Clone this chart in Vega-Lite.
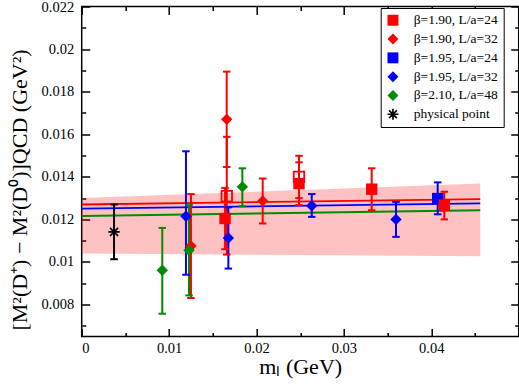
{
  "$schema": "https://vega.github.io/schema/vega-lite/v6.json",
  "width": 437,
  "height": 330,
  "autosize": "none",
  "padding": {"left": 81.7, "top": 6.5, "right": 0.3, "bottom": 48.5},
  "background": "white",
  "config": {
    "view": {"stroke": "black", "strokeWidth": 1.5},
    "font": "Liberation Serif",
    "legend": {"labelFont": "Liberation Serif", "labelFontSize": 13.5, "labelColor": "black"}
  },
  "datasets": {
    "points": [
      {"series": "physical point", "x": 0.0037, "y": 0.01141, "lo": 0.01013, "hi": 0.0127, "open": false},
      {"series": "β=2.10, L/a=48", "x": 0.00922, "y": 0.00961, "lo": 0.00757, "hi": 0.0116, "open": false},
      {"series": "β=1.95, L/a=32", "x": 0.01193, "y": 0.01215, "lo": 0.0094, "hi": 0.0152, "open": false},
      {"series": "β=1.90, L/a=32", "x": 0.0125, "y": 0.01075, "lo": 0.00831, "hi": 0.01319, "open": false},
      {"series": "β=2.10, L/a=48", "x": 0.01228, "y": 0.01055, "lo": 0.00843, "hi": 0.01267, "open": false},
      {"series": "β=1.90, L/a=24", "x": 0.0164, "y": 0.01204, "lo": 0.0106, "hi": 0.01348, "open": false},
      {"series": "β=1.90, L/a=24", "x": 0.0166, "y": 0.01309, "lo": 0.01035, "hi": 0.01588, "open": true},
      {"series": "β=1.90, L/a=32", "x": 0.01659, "y": 0.0167, "lo": 0.01446, "hi": 0.01894, "open": false},
      {"series": "β=1.95, L/a=32", "x": 0.01678, "y": 0.01113, "lo": 0.00969, "hi": 0.01257, "open": false},
      {"series": "β=2.10, L/a=48", "x": 0.01838, "y": 0.01353, "lo": 0.01262, "hi": 0.0144, "open": false},
      {"series": "β=1.90, L/a=32", "x": 0.02071, "y": 0.01287, "lo": 0.01181, "hi": 0.01392, "open": false},
      {"series": "β=1.90, L/a=24", "x": 0.02486, "y": 0.01368, "lo": 0.01267, "hi": 0.01468, "open": false},
      {"series": "β=1.90, L/a=24", "x": 0.02486, "y": 0.014, "lo": 0.013, "hi": 0.01499, "open": true},
      {"series": "β=1.95, L/a=32", "x": 0.02632, "y": 0.01264, "lo": 0.01212, "hi": 0.01319, "open": false},
      {"series": "β=1.90, L/a=24", "x": 0.03318, "y": 0.01342, "lo": 0.01243, "hi": 0.0144, "open": false},
      {"series": "β=1.95, L/a=32", "x": 0.03596, "y": 0.012, "lo": 0.01118, "hi": 0.01282, "open": false},
      {"series": "β=1.95, L/a=24", "x": 0.04073, "y": 0.01298, "lo": 0.01224, "hi": 0.01374, "open": false},
      {"series": "β=1.90, L/a=24", "x": 0.04149, "y": 0.01267, "lo": 0.012, "hi": 0.0133, "open": false}
    ],
    "fits": [
      {"series": "β=1.90, L/a=24", "x": 0, "y": 0.0127},
      {"series": "β=1.90, L/a=24", "x": 0.0456, "y": 0.01295},
      {"series": "β=1.95, L/a=24", "x": 0, "y": 0.01251},
      {"series": "β=1.95, L/a=24", "x": 0.0456, "y": 0.01275},
      {"series": "β=2.10, L/a=48", "x": 0, "y": 0.01216},
      {"series": "β=2.10, L/a=48", "x": 0.0456, "y": 0.01243}
    ],
    "band": [
      {"x": 0, "lo": 0.0104, "hi": 0.0130},
      {"x": 0.0456, "lo": 0.01027, "hi": 0.01369}
    ]
  },
  "layer": [
    {
      "data": {"name": "band"},
      "mark": {"type": "area", "color": "#ff0000", "opacity": 0.24},
      "encoding": {
        "x": {
          "field": "x", "type": "quantitative",
          "scale": {"domain": [0, 0.05], "nice": false, "zero": false},
          "axis": {
            "orient": "bottom",
            "domain": false, "grid": false,
            "tickColor": "black", "tickWidth": 1.5,
            "values": [0, 0.005, 0.01, 0.015, 0.02, 0.025, 0.03, 0.035, 0.04, 0.045],
            "labelExpr": "round(datum.value*1000) % 10 == 0 ? format(datum.value, '~g') : ''",
            "tickSize": {"condition": {"test": "round(datum.value*1000) % 10 == 0", "value": -8}, "value": -4},
            "labelPadding": 13,
            "labelFont": "Liberation Serif", "labelFontSize": 14.5, "labelColor": "black",
            "title": "mₗ (GeV)",
            "titleFont": "Liberation Serif", "titleFontSize": 22, "titleFontWeight": "normal", "titleColor": "black",
            "titleBaseline": "alphabetic",
            "titleY": 37
          }
        },
        "y": {
          "field": "lo", "type": "quantitative",
          "scale": {"domain": [0.0065, 0.022], "nice": false, "zero": false},
          "axis": {
            "orient": "left",
            "domain": false, "grid": false,
            "tickColor": "black", "tickWidth": 1.5,
            "values": [0.007, 0.008, 0.009, 0.01, 0.011, 0.012, 0.013, 0.014, 0.015, 0.016, 0.017, 0.018, 0.019, 0.02, 0.021, 0.022],
            "labelExpr": "round(datum.value*1000) % 2 == 0 ? format(datum.value, '~g') : ''",
            "tickSize": {"condition": {"test": "round(datum.value*1000) % 2 == 0", "value": -8}, "value": -4},
            "labelPadding": 16,
            "labelFlush": true,
            "labelFlushOffset": 6,
            "labelFont": "Liberation Serif", "labelFontSize": 14.5, "labelColor": "black",
            "title": "[M²(D⁺) − M²(D⁰)]QCD (GeV²)",
            "titleFont": "Liberation Serif", "titleFontSize": 22, "titleFontWeight": "normal", "titleColor": "black",
            "titleX": -50,
            "titleY": 183
          }
        },
        "y2": {"field": "hi"}
      }
    },
    {
      "data": {"name": "fits"},
      "mark": {"type": "line", "strokeWidth": 1.8},
      "encoding": {
        "x": {
          "field": "x", "type": "quantitative",
          "axis": {
            "orient": "top",
            "domain": false, "grid": false,
            "tickColor": "black", "tickWidth": 1.5,
            "values": [0, 0.005, 0.01, 0.015, 0.02, 0.025, 0.03, 0.035, 0.04, 0.045],
            "labels": false,
            "tickSize": {"condition": {"test": "round(datum.value*1000) % 10 == 0", "value": -8}, "value": -4},
            "title": null
          }
        },
        "y": {
          "field": "y", "type": "quantitative",
          "axis": {
            "orient": "right",
            "domain": false, "grid": false,
            "tickColor": "black", "tickWidth": 1.5,
            "values": [0.007, 0.008, 0.009, 0.01, 0.011, 0.012, 0.013, 0.014, 0.015, 0.016, 0.017, 0.018, 0.019, 0.02, 0.021, 0.022],
            "labels": false,
            "tickSize": {"condition": {"test": "round(datum.value*1000) % 2 == 0", "value": -8}, "value": -4},
            "title": null
          }
        },
        "color": {"field": "series", "type": "nominal", "legend": null},
        "detail": {"field": "series"}
      }
    },
    {
      "data": {"name": "points"},
      "mark": {"type": "rule", "strokeWidth": 2},
      "encoding": {
        "x": {"field": "x", "type": "quantitative", "axis": null},
        "y": {"field": "lo", "type": "quantitative", "axis": null},
        "y2": {"field": "hi"},
        "color": {"field": "series", "type": "nominal", "legend": null}
      }
    },
    {
      "data": {"name": "points"},
      "mark": {"type": "point", "shape": "stroke", "size": 56, "strokeWidth": 2, "filled": false, "opacity": 1},
      "encoding": {
        "x": {"field": "x", "type": "quantitative", "axis": null},
        "y": {"field": "lo", "type": "quantitative", "axis": null},
        "color": {"field": "series", "type": "nominal", "legend": null}
      }
    },
    {
      "data": {"name": "points"},
      "mark": {"type": "point", "shape": "stroke", "size": 56, "strokeWidth": 2, "filled": false, "opacity": 1},
      "encoding": {
        "x": {"field": "x", "type": "quantitative", "axis": null},
        "y": {"field": "hi", "type": "quantitative", "axis": null},
        "color": {"field": "series", "type": "nominal", "legend": null}
      }
    },
    {
      "data": {"name": "points"},
      "transform": [{"filter": "datum.open"}],
      "mark": {"type": "point", "shape": "square", "size": 110, "strokeWidth": 1.8, "filled": false, "color": "#ff0000", "opacity": 1},
      "encoding": {
        "x": {"field": "x", "type": "quantitative", "axis": null},
        "y": {"field": "y", "type": "quantitative", "axis": null}
      }
    },
    {
      "data": {"name": "points"},
      "transform": [{"filter": "!datum.open"}],
      "mark": {"type": "point", "filled": true, "opacity": 1, "size": 130},
      "encoding": {
        "x": {"field": "x", "type": "quantitative", "axis": null},
        "y": {"field": "y", "type": "quantitative", "axis": null},
        "color": {
          "field": "series", "type": "nominal",
          "scale": {
            "domain": ["β=1.90, L/a=24", "β=1.90, L/a=32", "β=1.95, L/a=24", "β=1.95, L/a=32", "β=2.10, L/a=48", "physical point"],
            "range": ["#ff0000", "#ff0000", "#0000ff", "#0000ff", "#008b00", "#000000"]
          },
          "legend": {
            "orient": "none",
            "legendX": 299,
            "legendY": 1.5,
            "title": null,
            "strokeColor": "black",
            "fillColor": "white",
            "padding": 5.5,
            "symbolSize": 120,
            "symbolStrokeWidth": 0,
            "labelFont": "Liberation Serif",
            "labelFontSize": 13.5,
            "labelColor": "black",
            "labelOffset": 14,
            "rowPadding": 3.8,
            "labelLimit": 200
          }
        },
        "shape": {
          "field": "series", "type": "nominal",
          "scale": {
            "domain": ["β=1.90, L/a=24", "β=1.90, L/a=32", "β=1.95, L/a=24", "β=1.95, L/a=32", "β=2.10, L/a=48", "physical point"],
            "range": ["square", "diamond", "square", "diamond", "diamond", "M-0.15,-1L0.15,-1L0.15,1L-0.15,1ZM1,-0.15L1,0.15L-1,0.15L-1,-0.15ZM0.601,-0.813L0.813,-0.601L-0.601,0.813L-0.813,0.601ZM0.813,0.601L0.601,0.813L-0.813,-0.601L-0.601,-0.813Z"]
          },
          "legend": {
            "orient": "none",
            "legendX": 299,
            "legendY": 1.5,
            "title": null,
            "strokeColor": "black",
            "fillColor": "white",
            "padding": 5.5,
            "symbolSize": 120,
            "symbolStrokeWidth": 0,
            "labelFont": "Liberation Serif",
            "labelFontSize": 13.5,
            "labelColor": "black",
            "labelOffset": 14,
            "rowPadding": 3.8,
            "labelLimit": 200
          }
        }
      }
    }
  ],
  "resolve": {
    "axis": {"x": "independent", "y": "independent"},
    "legend": {"color": "independent", "shape": "independent"}
  }
}
